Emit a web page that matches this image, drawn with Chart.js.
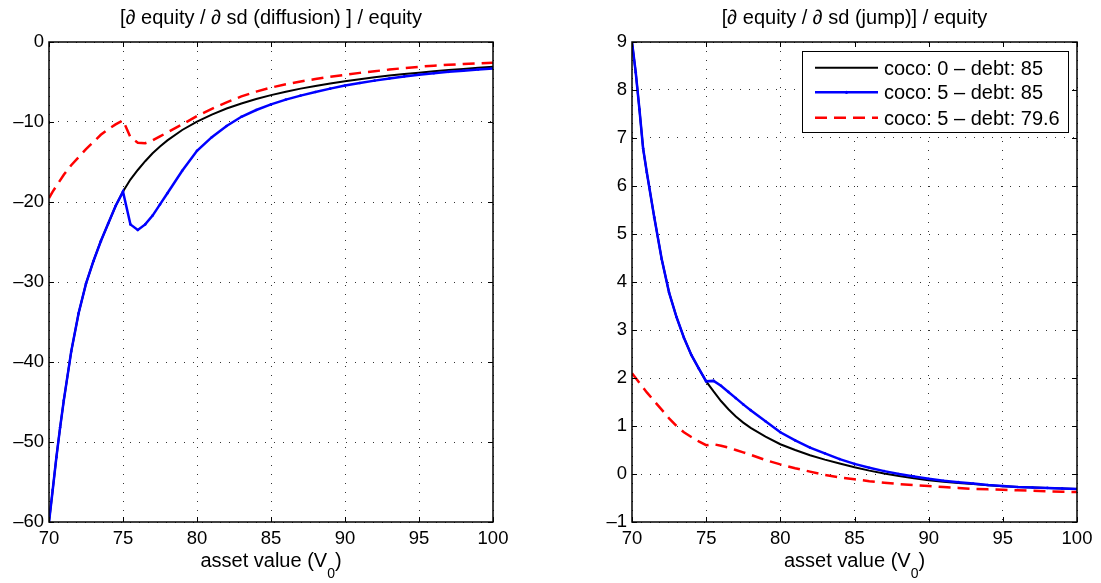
<!DOCTYPE html>
<html>
<head>
<meta charset="utf-8">
<script src="https://cdn.jsdelivr.net/npm/chart.js@4/dist/chart.umd.min.js"></script>
<style>
  body { margin: 0; background: #fff; }
  #wrap { position: relative; width: 1101px; height: 583px; overflow: hidden; }
  canvas { position: absolute; top: 0; }
  #left { left: 0; }
  #right { left: 551px; }
</style>
</head>
<body>
<div id="wrap">
  <canvas id="left" width="550" height="583"></canvas>
  <canvas id="right" width="550" height="583"></canvas>
</div>
<script>
// asset value grid (V0)
const assetValue = [70, 70.25, 70.5, 70.75, 71, 71.5, 72, 72.5, 73, 73.5, 74, 74.5, 75, 75.5, 76, 76.5, 77, 77.5, 78,
	79, 80, 81, 82, 83, 84, 85, 86, 87, 88, 89, 90, 91, 92, 93, 94, 95, 96, 97, 98, 99, 100];

const seriesLabels = ["coco: 0 \u2013 debt: 85", "coco: 5 \u2013 debt: 85", "coco: 5 \u2013 debt: 79.6"];

// left panel: [d equity / d sd (diffusion)] / equity
const diffCoco0 = [-60, -56, -51.9, -48.2, -44.8, -38.7, -33.9, -30.2, -27.4, -24.9, -22.7, -20.5, -18.7, -17.2, -16.0,
	-14.9, -13.9, -13.05, -12.3, -11.0, -9.95, -9.07, -8.32, -7.68, -7.12, -6.64, -6.21, -5.83, -5.49, -5.18, -4.9,
	-4.65, -4.42, -4.2, -4.01, -3.83, -3.66, -3.51, -3.36, -3.23, -3.1];
const diffCoco5 = [-60, -56, -51.9, -48.2, -44.8, -38.7, -33.9, -30.2, -27.4, -24.9, -22.7, -20.5, -18.7, -22.8, -23.5,
	-22.8, -21.7, -20.3, -18.9, -16.1, -13.6, -11.9, -10.5, -9.35, -8.5, -7.8, -7.2, -6.7, -6.25, -5.83, -5.45, -5.12,
	-4.83, -4.55, -4.3, -4.1, -3.9, -3.73, -3.58, -3.44, -3.3];
const diffCoco5Low = [-19.5, -18.7, -18.0, -17.3, -16.6, -15.4, -14.4, -13.4, -12.5, -11.6, -10.9, -10.3, -9.8, -11.9,
	-12.6, -12.65, -12.3, -11.8, -11.3, -10.3, -9.25, -8.35, -7.55, -6.8, -6.2, -5.7, -5.28, -4.93, -4.63, -4.35, -4.1,
	-3.86, -3.65, -3.45, -3.26, -3.1, -2.96, -2.85, -2.75, -2.67, -2.6];

// right panel: [d equity / d sd (jump)] / equity
const jumpCoco0 = [9, 8.37, 7.6, 6.78, 6.28, 5.35, 4.48, 3.78, 3.27, 2.84, 2.48, 2.2, 1.93, 1.72, 1.52, 1.35, 1.2, 1.07,
	0.96, 0.78, 0.62, 0.5, 0.39, 0.3, 0.22, 0.14, 0.07, 0.01, -0.04, -0.09, -0.13, -0.16, -0.19, -0.21, -0.235, -0.255,
	-0.27, -0.28, -0.29, -0.3, -0.31];
const jumpCoco5 = [9, 8.37, 7.6, 6.78, 6.28, 5.35, 4.48, 3.78, 3.27, 2.84, 2.48, 2.2, 1.93, 1.94, 1.84, 1.71, 1.58, 1.45,
	1.33, 1.1, 0.87, 0.7, 0.55, 0.43, 0.31, 0.21, 0.13, 0.06, 0, -0.05, -0.1, -0.14, -0.17, -0.2, -0.23, -0.25, -0.27,
	-0.28, -0.29, -0.3, -0.31];
const jumpCoco5Low = [2.1, 2.0, 1.9, 1.8, 1.7, 1.52, 1.34, 1.16, 1.0, 0.87, 0.77, 0.68, 0.6, 0.62, 0.59, 0.55, 0.5, 0.45,
	0.4, 0.29, 0.2, 0.12, 0.05, -0.02, -0.07, -0.11, -0.15, -0.18, -0.21, -0.23, -0.25, -0.27, -0.29, -0.31, -0.32,
	-0.33, -0.34, -0.35, -0.36, -0.37, -0.375];

const xTicks = {min: 70, max: 100, step: 5};
const leftTicks = {min: -60, max: 0, step: 10};
const rightTicks = {min: -1, max: 9, step: 1};

const FONT = "'Liberation Sans', Arial, sans-serif";
Chart.defaults.font.family = FONT;
Chart.defaults.color = "#000";

function pts(ys) {
	return assetValue.map((x, i) => ({x: x, y: ys[i]}));
}

function makeDatasets(a, b, c) {
	return [
		{label: seriesLabels[0], data: pts(a), borderColor: "#000", borderWidth: 2, pointRadius: 0, order: 3},
		{label: seriesLabels[1], data: pts(b), borderColor: "#0000ff", borderWidth: 2.5, pointRadius: 1.3,
			pointBackgroundColor: "#0000ff", pointBorderWidth: 0, order: 2},
		{label: seriesLabels[2], data: pts(c), borderColor: "#ff0000", borderWidth: 2.5, borderDash: [12, 7],
			pointRadius: 0, order: 1}
	];
}

// box, inward ticks, title, x label and legend, drawn like the matlab figure
const frame = {
	id: "frame",
	afterDatasetsDraw(chart, args, opts) {
		const ctx = chart.ctx, a = chart.chartArea, x = chart.scales.x, y = chart.scales.y;
		ctx.save();
		ctx.strokeStyle = "#000";
		ctx.lineWidth = 1;
		ctx.beginPath();
		x.ticks.forEach(t => {
			const px = Math.round(x.getPixelForValue(t.value)) + 0.5;
			ctx.moveTo(px, a.bottom); ctx.lineTo(px, a.bottom - 5);
			ctx.moveTo(px, a.top); ctx.lineTo(px, a.top + 5);
		});
		y.ticks.forEach(t => {
			const py = Math.round(y.getPixelForValue(t.value)) + 0.5;
			ctx.moveTo(a.left, py); ctx.lineTo(a.left + 5, py);
			ctx.moveTo(a.right, py); ctx.lineTo(a.right - 5, py);
		});
		ctx.stroke();
		ctx.lineWidth = 1.5;
		ctx.strokeRect(a.left, a.top, a.right - a.left, a.bottom - a.top);

		if (opts.legend) {
			const lx = 251, ly = 51, lw = 266, lh = 81;
			ctx.fillStyle = "#fff";
			ctx.fillRect(lx, ly, lw, lh);
			ctx.lineWidth = 1;
			ctx.strokeRect(lx + 0.5, ly + 0.5, lw, lh);
			const rows = [67.7, 92.3, 117.7];
			ctx.font = "20px " + FONT;
			ctx.textBaseline = "alphabetic";
			chart.data.datasets.forEach((ds, i) => {
				const ry = rows[i];
				ctx.strokeStyle = ds.borderColor;
				ctx.lineWidth = ds.borderWidth;
				ctx.setLineDash(ds.borderDash || []);
				ctx.beginPath();
				ctx.moveTo(264, ry); ctx.lineTo(327, ry);
				ctx.stroke();
				ctx.setLineDash([]);
				if (ds.pointRadius > 0) {
					ctx.fillStyle = ds.borderColor;
					ctx.beginPath(); ctx.arc(295.5, ry, 1.6, 0, Math.PI * 2); ctx.fill();
				}
				ctx.fillStyle = "#000";
				ctx.fillText(ds.label, 333, ry + 7);
			});
		}
		ctx.restore();
	},
	afterDraw(chart, args, opts) {
		const ctx = chart.ctx, a = chart.chartArea;
		const cx = (a.left + a.right) / 2;
		ctx.save();
		ctx.fillStyle = "#000";
		ctx.textBaseline = "alphabetic";
		ctx.textAlign = "center";
		ctx.font = "20px " + FONT;
		ctx.fillText(opts.title, cx, 24);

		// x label with subscript
		ctx.textAlign = "left";
		const big = "20px " + FONT, small = "14px " + FONT;
		ctx.font = big;
		const w1 = ctx.measureText("asset value (V").width, w3 = ctx.measureText(")").width;
		ctx.font = small;
		const w2 = ctx.measureText("0").width;
		let sx = cx - (w1 + w2 + w3) / 2;
		ctx.font = big;
		ctx.fillText("asset value (V", sx, 567);
		ctx.font = small;
		ctx.fillText("0", sx + w1, 578);
		ctx.font = big;
		ctx.fillText(")", sx + w1 + w2, 567);
		ctx.restore();
	}
};

function makeChart(id, datasets, yr, title, legend, yWidth, padRight) {
	return new Chart(document.getElementById(id), {
		type: "line",
		data: {datasets: datasets},
		plugins: [frame],
		options: {
			responsive: false,
			animation: false,
			devicePixelRatio: 1,
			layout: {padding: {left: 0, right: padRight, top: 42, bottom: 0}},
			elements: {line: {tension: 0}},
			plugins: {
				legend: {display: false},
				tooltip: {enabled: false},
				frame: {title: title, legend: legend}
			},
			scales: {
				x: {
					type: "linear",
					min: xTicks.min,
					max: xTicks.max,
					afterFit: s => { s.height = 61; },
					ticks: {stepSize: xTicks.step, padding: 6, font: {size: 18.5}, color: "#000"},
					grid: {color: "#333", lineWidth: 1, drawTicks: false},
					border: {display: false, dash: [1, 8]}
				},
				y: {
					type: "linear",
					min: yr.min,
					max: yr.max,
					afterFit: s => { s.width = yWidth; },
					ticks: {
						stepSize: yr.step, padding: 5, font: {size: 18.5}, color: "#000",
						callback: v => String(v).replace("-", "\u2013")
					},
					grid: {color: "#333", lineWidth: 1, drawTicks: false},
					border: {display: false, dash: [1, 8]}
				}
			}
		}
	});
}

const lChart = makeChart("left", makeDatasets(diffCoco0, diffCoco5, diffCoco5Low), leftTicks,
	"[\u2202 equity / \u2202 sd (diffusion) ] / equity", false, 49, 57);
const rChart = makeChart("right", makeDatasets(jumpCoco0, jumpCoco5, jumpCoco5Low), rightTicks,
	"[\u2202 equity / \u2202 sd (jump)] / equity", true, 81, 24);
</script>
</body>
</html>
